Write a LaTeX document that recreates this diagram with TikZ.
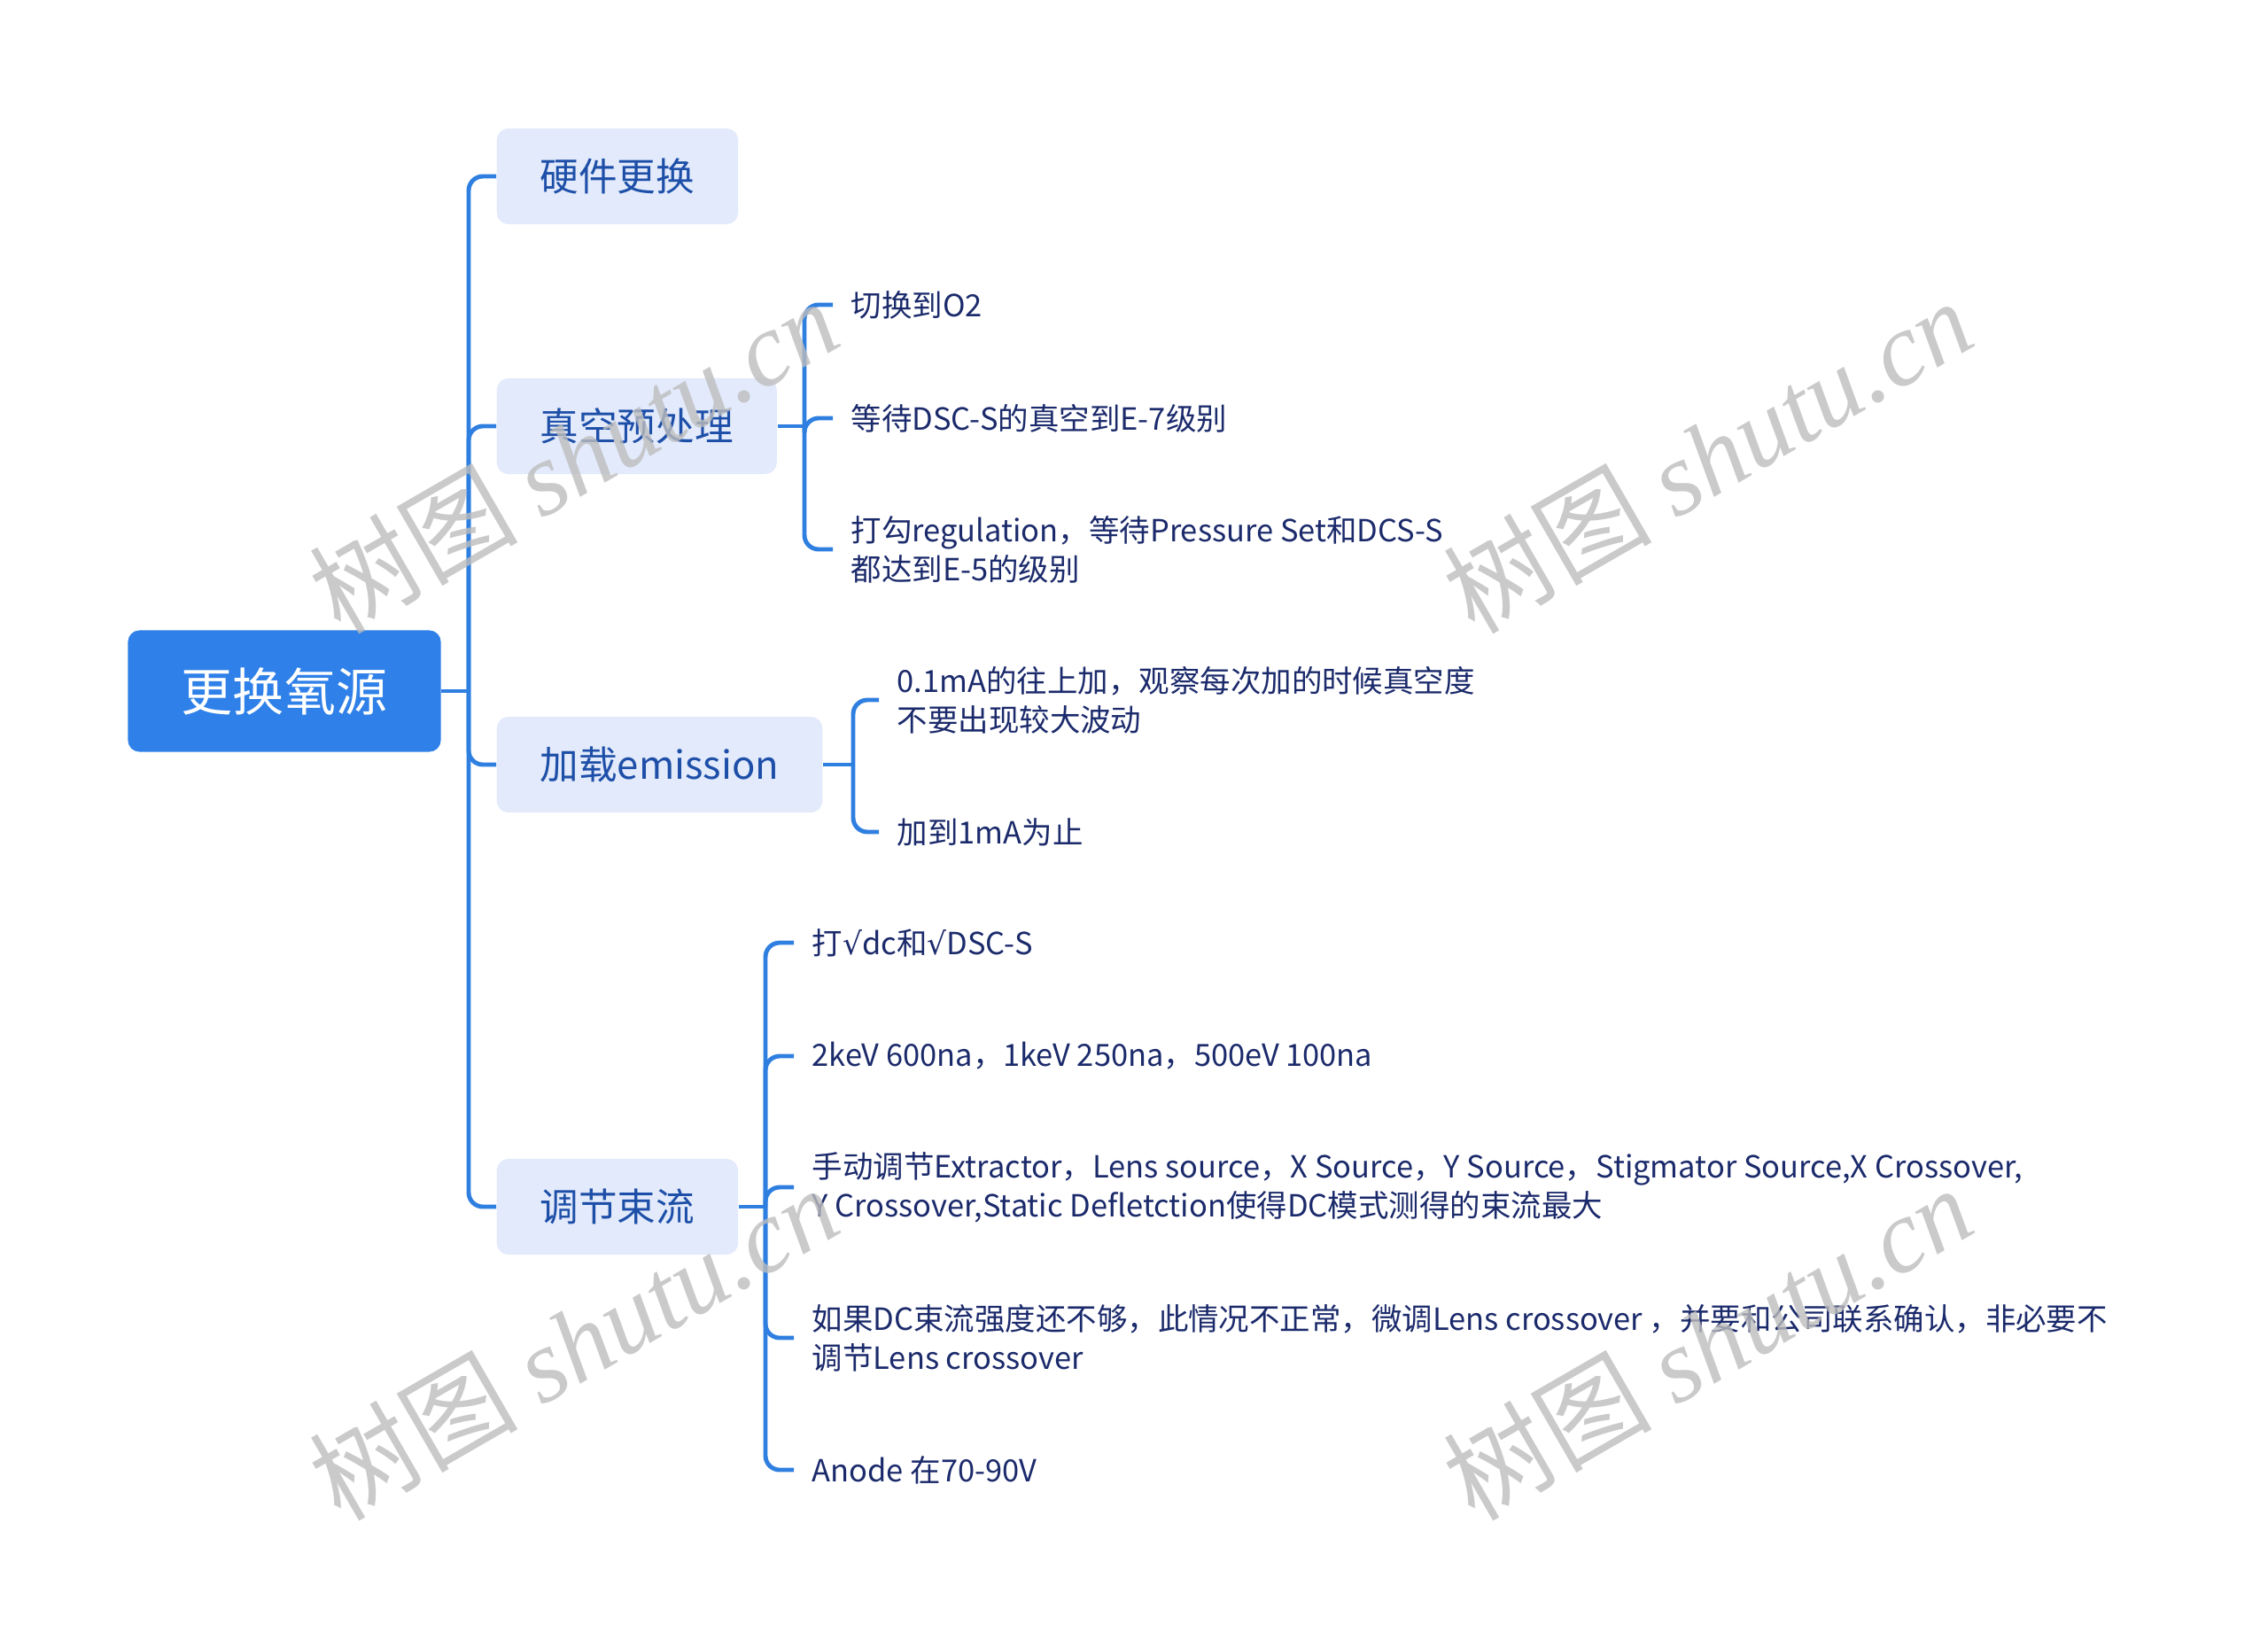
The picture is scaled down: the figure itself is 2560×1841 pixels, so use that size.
\documentclass[tikz,border=0pt]{standalone}
\usepackage{fontspec}
\setmainfont{Noto Sans CJK SC}
\newfontfamily\wmserif{Liberation Serif}
\newfontfamily\symfont{DejaVu Sans}
\usetikzlibrary{positioning,calc}
\definecolor{rootblue}{HTML}{2F80E8}
\definecolor{topicfill}{HTML}{E2EAFB}
\definecolor{topictext}{HTML}{1E4FA8}
\definecolor{leaftext}{HTML}{1B2A6B}
\definecolor{linkblue}{HTML}{2F7FE0}
\definecolor{wmgray}{HTML}{BDBDBD}
\newcommand{\tick}{{\symfont √}}

\begin{document}
\begin{tikzpicture}[x=0.01cm,y=-0.01cm,
        root/.style={rectangle,rounded corners=0.13cm,fill=rootblue,text=white,minimum width=3.53cm,minimum height=1.37cm,font=\fontsize{16.5pt}{20pt}\selectfont},
        topic/.style={rectangle,rounded corners=0.13cm,fill=topicfill,text=topictext,anchor=west,inner xsep=0.49cm,minimum height=1.08cm,font=\fontsize{12.4pt}{15pt}\selectfont},
        leaf/.style={anchor=west,inner xsep=0.2cm,inner ysep=0.05cm,align=left,text=leaftext,font=\fontsize{9.8pt}{12.5pt}\selectfont},
        link/.style={draw=linkblue,line width=1.4pt,rounded corners=0.16cm},
        wm/.style={text=wmgray,opacity=0.8,rotate=30,font=\fontsize{33.5pt}{33.5pt}\selectfont}]
        \useasboundingbox (0,0) rectangle (2560,1841);

        \node[root] (root) at (321,780) {更换氧源};

        \node[topic] (h1) at (560,199) {硬件更换};
        \node[topic] (h2) at (560,481) {真空预处理};
        \node[topic] (h3) at (560,863) {加载emission};
        \node[topic] (h4) at (560,1362) {调节束流};

        \node[leaf] (l21) at (940,344) {切换到O2};
        \node[leaf] (l22) at (940,472) {等待DSC-S的真空到E-7级别};
        \node[leaf] (l23) at (940,620) {打勾regulation，等待Pressure Set和DCS-S\\都达到E-5的级别};

        \node[leaf] (l31) at (992,790) {0.1mA的往上加，观察每次加的时候真空度\\不要出现较大波动};
        \node[leaf] (l32) at (992,939) {加到1mA为止};

        \node[leaf] (l41) at (896,1064) {打\tick dc和\tick DSC-S};
        \node[leaf] (l42) at (896,1192) {2keV 600na，1keV 250na，500eV 100na};
        \node[leaf] (l43) at (896,1340) {手动调节Extractor，Lens source，X Source，Y Source，Stigmator Source,X Crossover,\\Y Crossover,Static Defletction使得DC模式测得的束流最大};
        \node[leaf] (l44) at (896,1510) {如果DC束流强度还不够，此情况不正常，微调Lens crossover ，并要和公司联系确认，非必要不\\调节Lens crossover};
        \node[leaf] (l45) at (896,1659) {Anode 在70-90V};

        \coordinate (j1) at (529,780);
        \coordinate (j2) at (908,481);
        \coordinate (j3) at (963,863);
        \coordinate (j4) at (864,1362);

        % main branches
        \draw[link] (root.east) -- (j1);
        \foreach \h in {h1,h2,h3,h4}
            \draw[link] (j1) |- (\h.west);

        % sub branches
        \draw[link] (h2.east) -- (j2);
        \foreach \l in {l21,l22,l23}
            \draw[link] (j2) |- (\l.west);
        \draw[link] (h3.east) -- (j3);
        \foreach \l in {l31,l32}
            \draw[link] (j3) |- (\l.west);
        \draw[link] (h4.east) -- (j4);
        \foreach \l in {l41,l42,l43,l44,l45}
            \draw[link] (j4) |- (\l.west);

        % watermarks
        \node[wm] (w1) at (647,514) {树图 {\wmserif\itshape shutu.cn}};
        \node[wm] (w2) at (1927,514) {树图 {\wmserif\itshape shutu.cn}};
        \node[wm] (w3) at (647,1515) {树图 {\wmserif\itshape shutu.cn}};
        \node[wm] (w4) at (1927,1515) {树图 {\wmserif\itshape shutu.cn}};
    \end{tikzpicture}
\end{document}
